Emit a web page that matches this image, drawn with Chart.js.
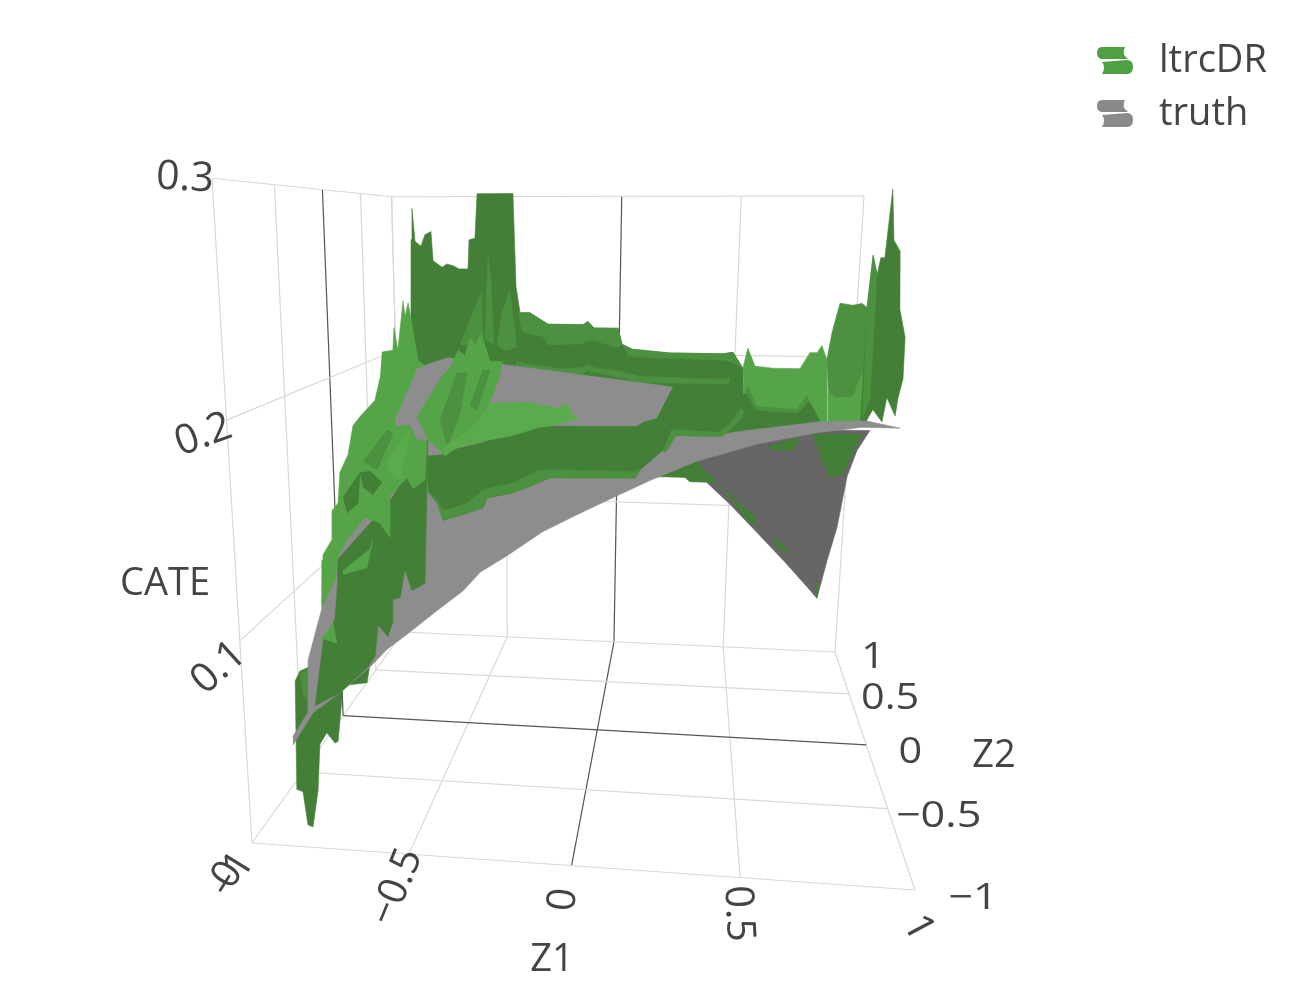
<!DOCTYPE html>
<html><head><meta charset="utf-8">
<style>body{margin:0;background:#fff}canvas{display:block}</style>
<script src="https://cdn.jsdelivr.net/npm/chart.js@4/dist/chart.umd.min.js"></script>
</head><body><canvas id="c" width="1300" height="1000"></canvas>
<script>
"use strict";
// Axis ticks
const z1Ticks = [-1, -0.5, 0, 0.5, 1];
const z2Ticks = [-1, -0.5, 0, 0.5, 1];
const cateTicks = [0.1, 0.2, 0.3];
const z1TickLabels = ["−1", "−0.5", "0", "0.5", "1"];
const z2TickLabels = ["−1", "−0.5", "0", "0.5", "1"];
const cateTickLabels = ["0.1", "0.2", "0.3"];
const seriesNames = ["ltrcDR", "truth"];

// Surfaces: each slice sits at one Z2 and lists Z1 and CATE round its outline.
const wallZ1 = [-.883,-.871,-.864,-.854,-.829,-.811,-.785,-.778,-.740,-.719,-.693,-.667,-.629,-.623,-.598,-.587,-.437,-.425,-.408,-.366,-.323,-.289,-.141,-.121,-.095,.006,.024,.066,.224,.443,.484,.528,.554,.110,-.895];
const wallCate = [.200,.273,.292,.272,.269,.276,.278,.260,.256,.258,.257,.255,.255,.273,.274,.301,.301,.244,.228,.228,.224,.221,.221,.223,.219,.219,.209,.206,.204,.204,.205,.195,.130,.129,.124];
const wallBandZ1 = [-.417,-.366,-.323,-.289,-.141,-.121,-.095,.006,.024,.007,-.069,-.103,-.124,-.141,-.289,-.310,-.400];
const wallBandCate = [.228,.228,.224,.221,.221,.223,.219,.219,.209,.207,.210,.211,.211,.209,.208,.213,.216];
const wallStripAZ1 = [.024,.066,.224,.443,.484,.528,.507,.453,.100,.049];
const wallStripACate = [.209,.206,.204,.204,.205,.195,.197,.200,.201,.202];
const wallStripBZ1 = [-.422,-.353,-.237,-.140,-.123,-.089,.017,.102,.447,.476,.469,.102,.018,-.088,-.122,-.139,-.237,-.353,-.430];
const wallStripBCate = [.197,.195,.193,.194,.196,.194,.192,.189,.188,.189,.185,.185,.188,.191,.192,.190,.190,.192,.194];
const valleyZ1 = [.505,.520,.549,.615,.714,.747,.773,.789,.810,.825,.522];
const valleyCate = [.204,.215,.205,.204,.204,.213,.213,.217,.209,.170,.169];
const valleyBaseZ1 = [.480,.524,.560,.715,.753,.797,.787,.467];
const valleyBaseCate = [.186,.190,.180,.179,.186,.175,.174,.167];
const valleyStripZ1 = [.519,.527,.563,.711,.745,.753,.715,.560,.524];
const valleyStripCate = [.193,.193,.182,.181,.189,.186,.179,.180,.189];
const blockZ1 = [.776,.788,.809,.852,.882,.899,.940,.919,.800];
const blockCate = [.214,.228,.243,.242,.243,.241,.193,.180,.178];
const blockLowZ1 = [.786,.818,.872,.897,.915,.912,.794];
const blockLowCate = [.197,.194,.195,.207,.204,.180,.177];
const spikesZ1 = [.857,.865,.881,.889,.901,.911,.925,.946,.958,.980,.983,.972,.967,.937,.927,.896,.880,.859];
const spikesCate = [.244,.268,.259,.267,.267,.298,.275,.270,.243,.230,.210,.201,.192,.201,.189,.195,.190,.187];
const spikeStreakZ1 = [.857,.865,.881,.885,.864];
const spikeStreakCate = [.244,.268,.259,.200,.190];
const foldZ1 = [.348,.391,.485,.597,.714,.806,.848,.879,.910,.936,.968,1.012,.590];
const foldCate = [.144,.131,.118,.101,.083,.068,.061,.085,.106,.137,.153,.165,.164];
const foldGreenAZ1 = [.625,.747,.722,.645];
const foldGreenACate = [.154,.160,.152,.152];
const foldGreenBZ1 = [.796,.836,.871,.920,.953,.983];
const foldGreenBCate = [.162,.147,.136,.139,.152,.163];
const foldGreenCZ1 = [.434,.455,.476,.599,.580,.555];
const foldGreenCCate = [.131,.128,.125,.109,.106,.109];
const foldGreenDZ1 = [.657,.740,.679];
const foldGreenDCate = [.100,.088,.092];
const foldGreenEZ1 = [.837,.849,.848];
const foldGreenECate = [.071,.071,.061];
const underZ1 = [.161,.201,.233,.302,.318,.372,.403,.332,.201];
const underCate = [.162,.165,.165,.165,.163,.163,.163,.173,.167];
const lowerSpikeZ1 = [-.882,-.870,-.853,-.827,-.819,-.723,-.631,-.642,-.718,-.741,-.751,-.776,-.800,-.813,-.835,-.851,-.862];
const lowerSpikeCate = [.021,.076,.081,.083,.067,.092,.086,.077,.075,.047,.046,.051,.045,.021,.002,.003,.020];
const lowerTipZ1 = [-.853,-.827,-.835,-.847];
const lowerTipCate = [.080,.082,.067,.070];
const truthZ1 = [-1.031,-.953,-.853,-.744,-.683,-.601,-.507,-.417,-.359,-.269,-.150,-.040,.088,.192,.338,.522,.703,.837,.950,.850,.701,.437,.281,.257,-.266,-.455,-.557,-.640,-.805,-.900,-.962,-.971,-1.030];
const truthCate = [.015,.034,.046,.061,.071,.081,.093,.104,.114,.123,.136,.145,.155,.163,.173,.182,.188,.191,.191,.194,.193,.187,.193,.208,.217,.220,.215,.189,.140,.094,.063,.034,.020];
const frontBandZ1 = [-.530,-.471,-.431,-.355,-.322,-.248,-.161,.147,.166,.209,.257,.462,.472,.465,.437,.260,.252,.231,.160,.145,-.128,-.170,-.248,-.334,-.347,-.401,-.481,-.497,-.529];
const frontBandCate = [.172,.173,.176,.179,.181,.183,.188,.189,.191,.193,.208,.210,.205,.196,.187,.187,.184,.178,.168,.164,.163,.160,.155,.152,.147,.144,.140,.148,.154];
const frontStripZ1 = [-.529,-.496,-.480,-.400,-.347,-.248,-.170,-.128,.144,.160,.145,-.128,-.170,-.248,-.334,-.347,-.401,-.481,-.497];
const frontStripCate = [.154,.150,.145,.149,.156,.160,.166,.167,.167,.169,.164,.163,.160,.155,.152,.147,.144,.140,.148];
const rightStripZ1 = [.231,.257,.406,.451,.468,.478,.461,.413,.270,.240];
const rightStripCate = [.177,.188,.187,.194,.199,.197,.192,.185,.185,.177];
const midColumnZ1 = [-.945,-.853,-.751,-.725,-.711,-.678,-.662,-.657,-.632,-.613,-.591,-.546,-.533,-.526,-.657,-.842,-.845,-.861,-.906];
const midColumnCate = [.038,.046,.061,.067,.084,.078,.085,.098,.099,.114,.103,.107,.154,.180,.149,.118,.107,.086,.074];
const patchAZ1 = [-.916,-.868,-.857,-.899];
const patchACate = [.074,.084,.073,.075];
const patchBZ1 = [-.897,-.904,-.855,-.842];
const patchBCate = [.117,.092,.107,.118];
const patchCZ1 = [-.826,-.730,-.719,-.743,-.827];
const patchCCate = [.112,.124,.129,.114,.110];
const patchDZ1 = [-.904,-.893,-.860,-.856,-.834,-.813,-.808,-.841,-.872];
const patchDCate = [.094,.120,.128,.143,.147,.138,.128,.120,.109];
const slopeZ1 = [-.775,-.735,-.729,-.717,-.694,-.688,-.676,-.664,-.645,-.620,-.649,-.734,-.735,-.680,-.655,-.619,-.629,-.674,-.695,-.760,-.765,-.801,-.857,-.904,-.928,-.957,-.945,-.912,-.890,-.863,-.806,-.785];
const slopeCate = [.216,.217,.229,.217,.243,.235,.242,.231,.212,.209,.208,.180,.176,.177,.169,.169,.147,.142,.148,.138,.114,.122,.125,.116,.112,.132,.150,.160,.176,.181,.190,.202];
const slopeShardAZ1 = [-.857,-.765,-.743,-.806];
const slopeShardACate = [.156,.174,.172,.152];
const slopeShardBZ1 = [-.768,-.691,-.680,-.722,-.758];
const slopeShardBCate = [.156,.174,.173,.147,.150];
const slopeHoleZ1 = [-.870,-.832,-.789,-.824,-.860];
const slopeHoleCate = [.150,.151,.145,.138,.142];
const slopeDarkZ1 = [-.937,-.870,-.881,-.924];
const slopeDarkCate = [.136,.150,.133,.127];
const mountSpikeAZ1 = [-.552,-.512,-.470,-.460];
const mountSpikeACate = [.216,.230,.245,.216];
const mountSpikeBZ1 = [-.456,-.442,-.432,-.422];
const mountSpikeBCate = [.219,.266,.252,.216];
const mountSpikeCZ1 = [-.411,-.391,-.361,-.335,-.380];
const mountSpikeCCate = [.216,.234,.247,.215,.213];
const mountZ1 = [-.723,-.683,-.623,-.591,-.559,-.533,-.513,-.490,-.471,-.438,-.388,-.408,-.439,-.490,-.616,-.686];
const mountCate = [.174,.184,.198,.203,.213,.210,.220,.216,.223,.207,.207,.196,.183,.172,.152,.162];
const mountShardAZ1 = [-.633,-.565,-.526,-.555,-.608];
const mountShardACate = [.173,.200,.200,.177,.157];
const mountShardBZ1 = [-.516,-.465,-.438,-.489];
const mountShardBCate = [.181,.202,.202,.179];
const plateZ1 = [-.439,-.286,-.183,-.142,-.126,-.096,-.198,-.248,-.351,-.440,-.569,-.616,-.623,-.529,-.490];
const plateCate = [.183,.184,.181,.184,.177,.176,.171,.170,.165,.162,.157,.152,.157,.166,.172];

const DARK = "#437f36", MID = "#4b9140", LIGHT = "#55a548", PALE = "#5aab4c", GRAY = "#8d8d8d", FOLD = "#666666";
const TXT = "#444", GRID = "#d8d8d8", ZERO = "#555";

// Camera of the 3D scene: Z1, Z2, CATE to canvas pixels.
function project(z1, z2, cate) {
  const u = (z1 + 1) / 2, v = (z2 + 1) / 2, w = cate / 0.3;
  const d = -0.0696 * u + 0.5218 * v - 0.1259 * w + 1;
  return {
    x: (599.32 * u + 361.30 * v - 66.70 * w + 252) / d,
    y: (-14.94 * u + 118.80 * v - 687.18 * w + 843) / d,
  };
}

// Painted back to front: Z2 of the slice, colour, outline.
const slices = [
  [0.8, DARK, wallZ1, wallCate], [0.8, MID, wallBandZ1, wallBandCate], [0.8, MID, wallStripAZ1, wallStripACate], [0.8, MID, wallStripBZ1, wallStripBCate],
  [0.3, LIGHT, valleyZ1, valleyCate], [0.3, DARK, valleyBaseZ1, valleyBaseCate], [0.3, MID, valleyStripZ1, valleyStripCate],
  [0, MID, blockZ1, blockCate], [0, LIGHT, blockLowZ1, blockLowCate],
  [-0.3, DARK, spikesZ1, spikesCate], [-0.3, MID, spikeStreakZ1, spikeStreakCate],
  [0.5, FOLD, foldZ1, foldCate], [0.5, DARK, foldGreenAZ1, foldGreenACate], [0.5, DARK, foldGreenBZ1, foldGreenBCate], [0.5, DARK, foldGreenCZ1, foldGreenCCate], [0.5, DARK, foldGreenDZ1, foldGreenDCate], [0.5, DARK, foldGreenEZ1, foldGreenECate],
  [-0.5, DARK, underZ1, underCate],
  [-0.9, DARK, lowerSpikeZ1, lowerSpikeCate], [-0.9, MID, lowerTipZ1, lowerTipCate],
  [-0.5, GRAY, truthZ1, truthCate],
  [-0.5, DARK, frontBandZ1, frontBandCate], [-0.5, MID, frontStripZ1, frontStripCate], [-0.5, MID, rightStripZ1, rightStripCate],
  [-0.5, DARK, midColumnZ1, midColumnCate],
  [-0.5, LIGHT, patchAZ1, patchACate], [-0.5, LIGHT, patchBZ1, patchBCate], [-0.5, LIGHT, patchCZ1, patchCCate], [-0.5, LIGHT, patchDZ1, patchDCate],
  [-0.1, LIGHT, slopeZ1, slopeCate], [-0.1, MID, slopeShardAZ1, slopeShardACate], [-0.1, PALE, slopeShardBZ1, slopeShardBCate], [-0.1, DARK, slopeHoleZ1, slopeHoleCate], [-0.1, DARK, slopeDarkZ1, slopeDarkCate],
  [0.2, MID, mountSpikeAZ1, mountSpikeACate], [0.2, MID, mountSpikeBZ1, mountSpikeBCate], [0.2, MID, mountSpikeCZ1, mountSpikeCCate],
  [0.2, LIGHT, mountZ1, mountCate], [0.2, MID, mountShardAZ1, mountShardACate], [0.2, MID, mountShardBZ1, mountShardBCate], [0.2, PALE, plateZ1, plateCate],
];

const datasets = [];
function gridLine(points, color) {
  datasets.push({ data: points, showLine: true, borderColor: color, borderWidth: 1.2, pointRadius: 0, fill: false });
}
for (const t of z1Ticks) {
  const color = t === 0 ? ZERO : GRID;
  gridLine([project(t, -1, 0), project(t, 1, 0)], color);
  gridLine([project(t, 1, 0), project(t, 1, 0.3)], color);
}
for (const t of z2Ticks) {
  const color = t === 0 ? ZERO : GRID;
  gridLine([project(-1, t, 0), project(1, t, 0)], color);
  gridLine([project(-1, t, 0), project(-1, t, 0.3)], color);
}
for (const c of cateTicks) gridLine([project(-1, -1, c), project(-1, 1, c), project(1, 1, c)], GRID);
for (const [z2, color, z1s, cates] of slices) {
  datasets.push({
    data: z1s.map((z1, i) => project(z1, z2, cates[i])),
    showLine: true, fill: "shape", backgroundColor: color, borderColor: color, borderWidth: 0.6, pointRadius: 0,
  });
}
// Chart.js paints the lowest order last
datasets.forEach((d, i) => { d.order = datasets.length - i; d.clip = false; });

function legendIcon(color) {
  const g = document.createElement("canvas");
  g.width = 43; g.height = 30;
  const ctx = g.getContext("2d");
  ctx.fillStyle = color;
  ctx.fill(new Path2D("M5,1 L28,1 Q24,8 31,13 L6,13 Q0,13 0,7 Q0,1 5,1 Z M5,16 L30,14 Q36,14 36,21 Q36,28 30,28 L5,28 Q9,21 5,16 Z"));
  return g;
}

const sceneLabels = {
  id: "sceneLabels",
  afterLayout(chart) { chart.legend.left = 1082; chart.legend.top = 27; },
  afterDatasetsDraw(chart) {
    const ctx = chart.ctx;
    const put = (text, x, y, rot, size, stretch) => {
      ctx.save();
      ctx.translate(x, y + 3);
      ctx.rotate(rot * Math.PI / 180);
      ctx.scale(stretch || 1, 1);
      ctx.font = (size || 38) + 'px "Open Sans"';
      ctx.fillStyle = TXT; ctx.textAlign = "center"; ctx.textBaseline = "middle";
      ctx.fillText(text, 0, 0);
      ctx.restore();
    };
    const z1Style = [[-19, 29, -58], [-12, 30, -68], [-8, 31, -85], [-2, 33, 87], [3, 35, 62]];
    z1Ticks.forEach((t, i) => {
      const p = project(t, -1, 0), s = z1Style[i];
      put(z1TickLabels[i], p.x + s[0], p.y + s[1], s[2], 40);
    });
    put("0", 228, 872, -58, 40); // the reference has a second tick printed over −1
    const z2Style = [[58, 6, 1.2], [51, 5, 1.2], [44, 5, 1.15], [41, 2, 1.15], [38, 3, 1.15]];
    z2Ticks.forEach((t, i) => {
      const p = project(1, t, 0), s = z2Style[i];
      put(z2TickLabels[i], p.x + s[0], p.y + s[1], 0, 36, s[2]);
    });
    const cateStyle = [[-21, 24, -42], [-23, 12, -20], [-27, -3, 3]];
    cateTicks.forEach((t, i) => {
      const p = project(-1, -1, t), s = cateStyle[i];
      put(cateTickLabels[i], p.x + s[0], p.y + s[1], s[2], 41);
    });
    put("CATE", 165, 581, 0);
    put("Z1", 552, 957, 0);
    put("Z2", 994, 753, 0);
  },
};

new Chart(document.getElementById("c"), {
  type: "scatter",
  data: { datasets },
  plugins: [sceneLabels],
  options: {
    responsive: false,
    animation: false,
    scales: { x: { display: false, min: 0, max: 1300 }, y: { display: false, min: 0, max: 1000, reverse: true } },
    plugins: {
      tooltip: { enabled: false },
      legend: {
        position: "chartArea",
        align: "start",
        labels: {
          font: { family: "Open Sans", size: 38 }, color: TXT, padding: 15, usePointStyle: true, pointStyleWidth: 43,
          generateLabels: () => [
            { text: seriesNames[0], pointStyle: legendIcon("#4f9f43"), fontColor: TXT },
            { text: seriesNames[1], pointStyle: legendIcon("#8a8a8a"), fontColor: TXT },
          ],
        },
      },
    },
  },
});
</script></body></html>
